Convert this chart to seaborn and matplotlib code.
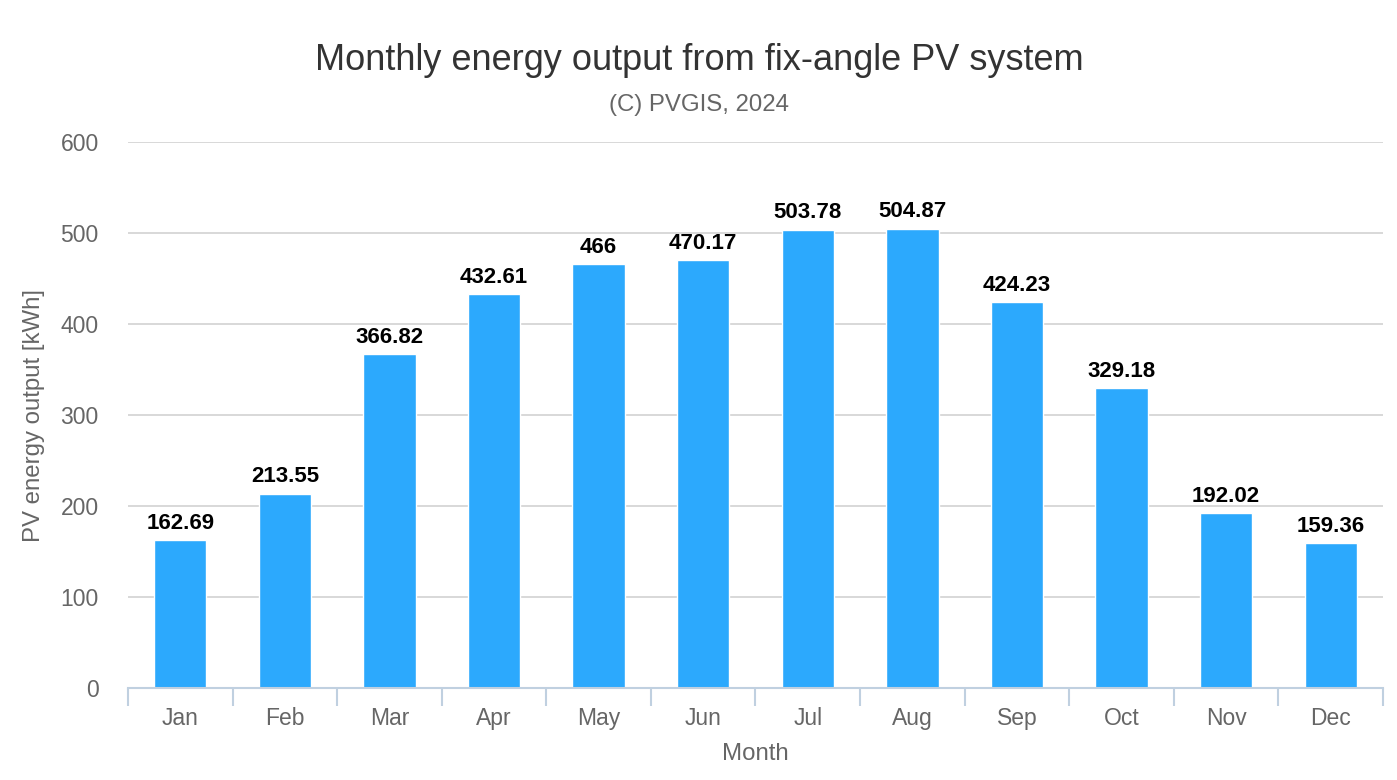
import matplotlib
matplotlib.use("Agg")
import matplotlib.pyplot as plt
import matplotlib.transforms as mtransforms
import seaborn as sns
import pandas as pd
import numpy as np

months = ["Jan", "Feb", "Mar", "Apr", "May", "Jun", "Jul", "Aug", "Sep", "Oct", "Nov", "Dec"]
values = [162.69, 213.55, 366.82, 432.61, 466, 470.17, 503.78, 504.87, 424.23, 329.18, 192.02, 159.36]
labels = ["162.69", "213.55", "366.82", "432.61", "466", "470.17", "503.78", "504.87", "424.23", "329.18", "192.02", "159.36"]
yticks = [0, 100, 200, 300, 400, 500, 600]

sns.set_theme(style="white")
plt.rcParams['font.family'] = ['Liberation Sans', 'DejaVu Sans']

df = pd.DataFrame({"Month": months, "Output": values})

fig = plt.figure(figsize=(13.97, 7.8), dpi=100)
ax = fig.add_axes([128/1397, 1 - 688/780, (1383 - 128)/1397, (688 - 142)/780])

sns.barplot(data=df, x="Month", y="Output", color="#2ca9fd", width=0.5, saturation=1, ax=ax, zorder=3)

ax.set_ylim(0, 600)
ax.set_xlim(-0.5, 11.5)
ax.set_yticks(yticks)
ax.set_yticklabels([str(t) for t in yticks], color="#666666", fontsize=16.5)
shift = mtransforms.ScaledTranslation(0, -3/100, fig.dpi_scale_trans)
for lbl in ax.get_yticklabels():
    lbl.set_transform(lbl.get_transform() + shift)
ax.yaxis.grid(True, color="#d6d6d6", linewidth=1.3, zorder=0)
ax.set_axisbelow(True)
ax.tick_params(axis='y', left=False, length=0, pad=21)

for s in ["top", "right", "left"]:
    ax.spines[s].set_visible(False)
ax.spines["bottom"].set_color("#c0d0e0")
ax.spines["bottom"].set_linewidth(1.5)
ax.spines["bottom"].set_zorder(4)

# category tick marks at boundaries
ax.set_xticks(np.arange(-0.5, 12, 1), minor=True)
ax.tick_params(axis='x', which='minor', bottom=True, length=13, width=1.5, color="#c0d0e0", direction="out")
ax.tick_params(axis='x', which='major', bottom=True, length=0, pad=14, labelsize=16.5, labelcolor="#666666")

for i, (v, lab) in enumerate(zip(values, labels)):
    ax.text(i, v + 7, lab, ha="center", va="bottom", fontsize=16, fontweight="bold", color="#000000", zorder=5)

ax.set_xlabel("Month", color="#666666", fontsize=17.3, labelpad=9)
ax.set_ylabel("PV energy output [kWh]", color="#666666", fontsize=17.3, labelpad=11)

fig.text(699/1397, 1 - 61/780, "Monthly energy output from fix-angle PV system", ha="center", va="center", fontsize=26, color="#333333")
fig.text(699/1397, 1 - 105/780, "(C) PVGIS, 2024", ha="center", va="center", fontsize=17.3, color="#666666")

fig.savefig("out.png", dpi=100, facecolor="white")
